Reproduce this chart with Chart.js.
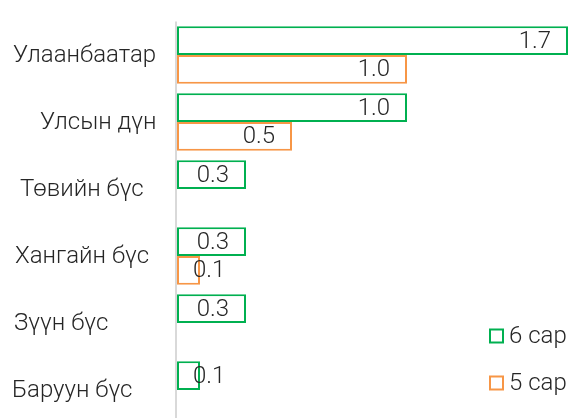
<!DOCTYPE html>
<html>
<head>
<meta charset="utf-8">
<script src="https://cdn.jsdelivr.net/npm/chart.js@4/dist/chart.umd.min.js"></script>
<style>
  html, body { margin: 0; padding: 0; overflow: hidden; background: #fff; }
  #wrap { width: 570px; height: 425px; }
</style>
</head>
<body>
<div id="wrap"><canvas id="bus-chart"></canvas></div>
<script>
// Ангилал ба цувааны утгууд
const categories = ['Улаанбаатар', 'Улсын дүн', 'Төвийн бүс', 'Хангайн бүс', 'Зүүн бүс', 'Баруун бүс'];
const seriesNames = ['6 сар', '5 сар'];
const june = [1.7, 1.0, 0.3, 0.3, 0.3, 0.1];
const may = [1.0, 0.5, null, 0.1, null, null];

const green = '#00B050';
const orange = '#F79646';
const textColor = '#262626';
const font = '300 24px Roboto';

// category label left edges (they are not aligned in the original)
const labelLeft = [13, 40, 20, 15, 14, 12];

const drawExtras = {
  id: 'drawExtras',
  afterDraw(chart) {
    const ctx = chart.ctx;
    const area = chart.chartArea;
    const yScale = chart.scales.y;
    ctx.save();

    // vertical axis line
    ctx.strokeStyle = '#d9d9d9';
    ctx.lineWidth = 2;
    ctx.beginPath();
    ctx.moveTo(area.left - 1, area.top);
    ctx.lineTo(area.left - 1, chart.height);
    ctx.stroke();

    ctx.font = font;
    ctx.fillStyle = textColor;
    ctx.textBaseline = 'middle';

    // category labels
    ctx.textAlign = 'left';
    categories.forEach((c, i) => {
      ctx.fillText(c, labelLeft[i], yScale.getPixelForValue(i) + 1);
    });

    // value labels, inside end
    chart.data.datasets.forEach((ds, di) => {
      chart.getDatasetMeta(di).data.forEach((bar, i) => {
        const v = ds.data[i];
        if (v === null) return;
        const txt = v.toFixed(1);
        const w = ctx.measureText(txt).width;
        let left = bar.x - 17 - w;
        if (left < bar.base + 16) left = bar.base + 16;
        ctx.fillText(txt, left, bar.y + 1);
      });
    });

    // legend, bottom right
    const legendY = [336, 383];
    seriesNames.forEach((name, i) => {
      ctx.strokeStyle = i === 0 ? green : orange;
      ctx.lineWidth = 2;
      ctx.strokeRect(490, legendY[i] - 6.5, 13, 13);
      ctx.fillText(name, 509, legendY[i] + 1);
    });

    ctx.restore();
  }
};

new Chart(document.getElementById('bus-chart'), {
  type: 'bar',
  data: {
    labels: categories,
    datasets: [
      {
        label: seriesNames[0],
        data: june,
        backgroundColor: '#ffffff',
        borderColor: green,
        borderWidth: 2,
        borderSkipped: false,
      },
      {
        label: seriesNames[1],
        data: may,
        backgroundColor: '#ffffff',
        borderColor: orange,
        borderWidth: 2,
        borderSkipped: false,
      },
    ],
  },
  options: {
    indexAxis: 'y',
    responsive: true,
    maintainAspectRatio: false,
    animation: false,
    layout: {
      padding: { left: 177, right: 2, top: 21.5, bottom: 1.5 },
    },
    datasets: {
      bar: { categoryPercentage: 0.86, barPercentage: 1 },
    },
    plugins: {
      legend: { display: false },
      tooltip: { enabled: false },
    },
    scales: {
      x: { display: false, min: 0, max: 1.7 },
      y: { display: false },
    },
  },
  plugins: [drawExtras],
});
</script>
</body>
</html>
